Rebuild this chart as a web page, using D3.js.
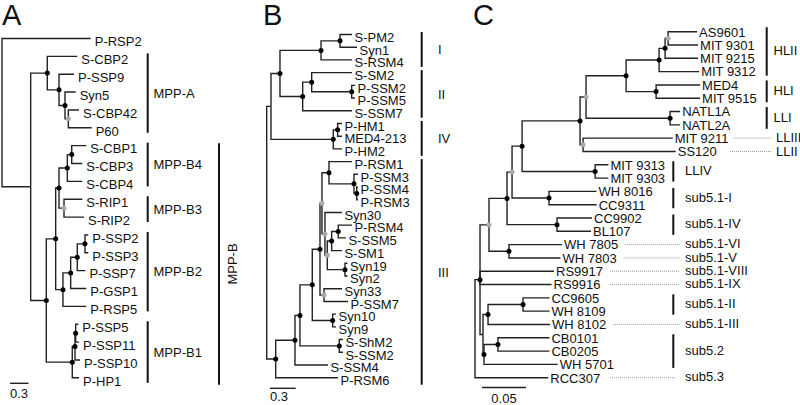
<!DOCTYPE html>
<html><head><meta charset="utf-8">
<script src="https://cdn.jsdelivr.net/npm/d3@7"></script>
<style>
body{margin:0;background:#fff}
svg{display:block}
text{font-family:"Liberation Sans",Arial,Helvetica,sans-serif;fill:#111}
</style>
</head><body>
<svg id="chart" width="800" height="405"></svg>
<script>
// ---------------- DATA ----------------
// Edge lists: [node, parent, branch length (subst./site), node mark: b = black dot, g = grey dot]
const treeA = [
  ["A0","",0,""],
  ["P-RSP2","A0",1.438],
  ["A1","A0",0.465,""],
  ["A2","A1",0.269,"b"],
  ["S-CBP2","A2",0.486],
  ["A3","A2",0.190,"b"],
  ["P-SSP9","A3",0.243],
  ["A4","A3",0.097,"b"],
  ["Syn5","A4",0.173],
  ["A5","A4",0.054,"g"],
  ["S-CBP42","A5",0.173],
  ["P60","A5",0.379],
  ["A6","A1",0.253,"b"],
  ["A7","A6",0.152,"b"],
  ["A8","A7",0.054,"b"],
  ["A9","A8",0.135,"b"],
  ["A10","A9",0.071,"b"],
  ["S-CBP1","A10",0.237],
  ["S-CBP3","A10",0.172],
  ["S-CBP4","A9",0.243],
  ["A11","A8",0.081,"g"],
  ["S-RIP1","A11",0.297],
  ["S-RIP2","A11",0.324],
  ["A12","A7",0.118,"b"],
  ["A13","A12",0.125,"b"],
  ["A14","A13",0.107,"b"],
  ["A15","A14",0.125,"b"],
  ["P-SSP2","A15",0.054],
  ["P-SSP3","A15",0.054],
  ["P-SSP7","A14",0.133],
  ["P-GSP1","A13",0.253],
  ["P-RSP5","A12",0.378],
  ["A16","A6",0.421,"b"],
  ["A17","A16",0.044,"b"],
  ["A18","A17",0.011,"b"],
  ["P-SSP5","A18",0.042],
  ["P-SSP11","A18",0.054],
  ["P-SSP10","A17",0.081],
  ["P-HP1","A16",0.109]
];
const treeB = [
  ["B0","",0,""],
  ["B1","B0",0.050,""],
  ["B2","B1",0.105,"b"],
  ["B3","B2",0.479,"b"],
  ["B4","B3",0.222,"b"],
  ["S-PM2","B4",0.140],
  ["Syn1","B4",0.198],
  ["S-RSM4","B3",0.362],
  ["B5","B2",0.265,"b"],
  ["B6","B5",0.105,"b"],
  ["S-SM2","B6",0.470],
  ["B7","B6",0.467,"b"],
  ["P-SSM2","B7",0.039],
  ["P-SSM5","B7",0.039],
  ["S-SSM7","B5",0.575],
  ["B8","B1",0.727,"b"],
  ["B9","B8",0.051,"b"],
  ["P-HM1","B9",0.050],
  ["MED4-213","B9",0.050],
  ["P-HM2","B8",0.102],
  ["B10","B0",0.105,"b"],
  ["B11","B10",0.225,"b"],
  ["B12","B11",0.058,"b"],
  ["B13","B12",0.144,"b"],
  ["B14","B13",0.090,"b"],
  ["B15","B14",0.023,"g"],
  ["B16","B15",0.082,"b"],
  ["P-RSM1","B16",0.268],
  ["B17","B16",0.292,"b"],
  ["P-SSM3","B17",0.047],
  ["B18","B17",0.032,"b"],
  ["P-SSM4","B18",0.015],
  ["P-RSM3","B18",0.015],
  ["B19","B15",0.035,"g"],
  ["Syn30","B19",0.198],
  ["B20","B19",0.027,"g"],
  ["B21","B20",0.051,"b"],
  ["B22","B21",0.077,"b"],
  ["P-RSM4","B22",0.160],
  ["S-SSM5","B22",0.090],
  ["S-SM1","B21",0.120],
  ["B23","B20",0.207,"b"],
  ["Syn19","B23",0.029],
  ["Syn2","B23",0.029],
  ["B24","B14",0.047,"g"],
  ["Syn33","B24",0.210],
  ["P-SSM7","B24",0.280],
  ["B25","B13",0.238,"b"],
  ["Syn10","B25",0.039],
  ["Syn9","B25",0.039],
  ["B26","B12",0.459,"b"],
  ["S-ShM2","B26",0.043],
  ["S-SSM2","B26",0.043],
  ["S-SSM4","B11",0.385],
  ["P-RSM6","B10",0.727]
];
const treeC = [
  ["C0","",0,""],
  ["C1","C0",0.0057,"b"],
  ["C2","C1",0.0102,"g"],
  ["C3","C2",0.0205,"b"],
  ["C4","C3",0.0057,"g"],
  ["C5","C4",0.0114,"b"],
  ["C6","C5",0.0659,"b"],
  ["C7","C6",0.0068,"g"],
  ["C8","C7",0.0455,"b"],
  ["C9","C8",0.0375,"b"],
  ["C10","C9",0.0068,"b"],
  ["C11","C10",0.0034,"g"],
  ["AS9601","C11",0.0330],
  ["MIT 9301","C11",0.0341],
  ["MIT 9215","C10",0.0375],
  ["MIT 9312","C9",0.0455],
  ["C12","C8",0.0341,"b"],
  ["MED4","C12",0.0500],
  ["MIT 9515","C12",0.0500],
  ["C13","C7",0.0955,"b"],
  ["NATL1A","C13",0.0114],
  ["NATL2A","C13",0.0114],
  ["C14","C6",0.0034,"g"],
  ["MIT 9211","C14",0.1019],
  ["SS120","C14",0.1053],
  ["C15","C5",0.0830,"b"],
  ["MIT 9313","C15",0.0151],
  ["MIT 9303","C15",0.0151],
  ["C16","C4",0.0420,"b"],
  ["WH 8016","C16",0.0540],
  ["CC9311","C16",0.0542],
  ["C17","C3",0.0568,"b"],
  ["CC9902","C17",0.0398],
  ["BL107","C17",0.0386],
  ["C18","C2",0.0227,"b"],
  ["WH 7805","C18",0.0602],
  ["WH 7803","C18",0.0585],
  ["RS9917","C1",0.0841],
  ["RS9916","C1",0.0813],
  ["C19","C1",0.0034,""],
  ["C20","C19",0.0057,"b"],
  ["C21","C20",0.0398,"b"],
  ["CC9605","C21",0.0301],
  ["WH 8109","C21",0.0301],
  ["WH 8102","C20",0.0705],
  ["C22","C19",0.0011,"b"],
  ["C23","C22",0.0159,"b"],
  ["CB0101","C23",0.0585],
  ["CB0205","C23",0.0585],
  ["WH 5701","C22",0.0838],
  ["RCC307","C0",0.0833]
];
// clade brackets: [label, first leaf, last leaf]
const groupsA = [["MPP-A","S-CBP2","P60"],["MPP-B4","S-CBP1","S-CBP4"],["MPP-B3","S-RIP1","S-RIP2"],["MPP-B2","P-SSP2","P-RSP5"],["MPP-B1","P-SSP5","P-HP1"]];
const superA = [["MPP-B","S-CBP1","P-HP1"]];
const groupsB = [["I","S-PM2","S-RSM4"],["II","S-SM2","S-SSM7"],["IV","P-HM1","P-HM2"],["III","P-RSM1","P-RSM6"]];
const groupsC1 = [["HLII","AS9601","MIT 9312"],["HLI","MED4","MIT 9515"],["LLI","NATL1A","NATL2A"]];
const groupsC2 = [["LLIV","MIT 9313","MIT 9303"],["sub5.1-I","WH 8016","CC9311"],["sub5.1-IV","CC9902","BL107"],["sub5.1-II","CC9605","WH 8109"],["sub5.2","CB0101","WH 5701"]];
const dottedC1 = [["LLIII","MIT 9211"],["LLII","SS120"]];
const dottedC2 = [["sub5.1-VI","WH 7805"],["sub5.1-V","WH 7803"],["sub5.1-VIII","RS9917"],["sub5.1-IX","RS9916"],["sub5.1-III","WH 8102"],["sub5.3","RCC307"]];
const panelLetters = ["A","B","C"];
const scaleLabels = ["0.3","0.3","0.05"];
const scaleValues = [0.3,0.3,0.05];

// ---------------- DRAW ----------------
const svg = d3.select("#chart");
const LINE = "#222";

function drawTree(edges, cfg) {
  const g = svg.append("g");
  const root = d3.stratify().id(d => d[0]).parentId(d => d[1])(edges);
  root.eachBefore(n => { n.dist = n.parent ? n.parent.dist + n.data[2] : 0; });
  const leaves = root.leaves();
  const x = d3.scaleLinear().domain([0, 1]).range([cfg.x0, cfg.x0 + cfg.ppu]);
  const y = d3.scaleLinear().domain([0, leaves.length - 1]).range([cfg.y0, cfg.y1]);
  leaves.forEach((l, i) => { l.yy = y(i); });
  root.eachAfter(n => {
    if (n.children) n.yy = (n.children[0].yy + n.children[n.children.length - 1].yy) / 2;
  });
  g.selectAll("path.br").data(root.descendants().filter(n => n.parent))
    .join("path").attr("class", "br")
    .attr("d", n => `M${x(n.parent.dist)},${n.parent.yy}V${n.yy}H${x(n.dist)}`)
    .attr("fill", "none").attr("stroke", LINE).attr("stroke-width", 1.4);
  g.selectAll("circle").data(root.descendants().filter(n => n.data[3] === "b" || n.data[3] === "g"))
    .join("circle")
    .attr("cx", n => x(n.dist)).attr("cy", n => n.yy).attr("r", 2.5)
    .attr("fill", n => n.data[3] === "b" ? "#000" : "#aaa");
  const pos = {};
  g.selectAll("text.leaf").data(leaves).join("text").attr("class", "leaf")
    .attr("x", n => x(n.dist) + cfg.gap).attr("y", n => n.yy + cfg.base)
    .attr("font-size", 13).text(n => n.id)
    .each(function(n) { pos[n.id] = {y: n.yy, x: x(n.dist) + cfg.gap, end: x(n.dist) + cfg.gap + this.getComputedTextLength()}; });
  return {x, pos};
}

function vline(x, y1, y2, w) {
  svg.append("line").attr("x1", x).attr("x2", x).attr("y1", y1).attr("y2", y2)
    .attr("stroke", "#111").attr("stroke-width", w || 2);
}
function label(txt, x, yc, anchor) {
  svg.append("text").attr("x", x).attr("y", yc + 4.6).attr("font-size", 13)
    .attr("text-anchor", anchor || "start").text(txt);
}

// Panel A
const TA = drawTree(treeA, {x0: 2, ppu: 61.7, y0: 38.5, y1: 377.8, gap: 4, base: 7.8});
groupsA.forEach(([lab, a, b]) => {
  const y1 = TA.pos[a].y - 3, y2 = TA.pos[b].y + 5;
  vline(147.7, y1, y2);
  label(lab, 153.5, (y1 + y2) / 2);
});
superA.forEach(([lab, a, b]) => {
  const y1 = TA.pos[a].y - 2.5, y2 = TA.pos[b].y + 7;
  vline(219, y1, y2);
  svg.append("text").attr("transform", `translate(236.5,${(y1 + y2) / 2}) rotate(-90)`)
    .attr("text-anchor", "middle").attr("font-size", 13).text(lab);
});

// Panel B
const TB = drawTree(treeB, {x0: 266.7, ppu: 85.67, y0: 34.5, y1: 377.7, gap: 2.5, base: 7.3});
groupsB.forEach(([lab, a, b]) => {
  const y1 = TB.pos[a].y - 2.5, y2 = TB.pos[b].y + 7;
  vline(421.7, y1, y2);
  label(lab, 438, (y1 + y2) / 2);
});

// Panel C
const TC = drawTree(treeC, {x0: 475, ppu: 880, y0: 31.7, y1: 377.7, gap: 2, base: 4.8});
groupsC1.forEach(([lab, a, b]) => {
  const y1 = TC.pos[a].y - 4.5, y2 = TC.pos[b].y + 4;
  vline(766.7, y1, y2);
  label(lab, 773.5, (y1 + y2) / 2 - 1);
});
groupsC2.forEach(([lab, a, b]) => {
  const y1 = TC.pos[a].y - 3.5, y2 = TC.pos[b].y + 3.5;
  vline(673.3, y1, y2);
  label(lab, 685, (y1 + y2) / 2 - 1);
});
function dotted(x1, x2, yy) {
  svg.append("line").attr("x1", x1).attr("x2", x2).attr("y1", yy).attr("y2", yy)
    .attr("stroke", "#999").attr("stroke-width", 1).attr("stroke-dasharray", "1,1");
}
dottedC1.forEach(([lab, leaf]) => {
  const p = TC.pos[leaf];
  dotted(Math.max(730, p.end + 5), 771.7, p.y);
  label(lab, 776, p.y - 0.5);
});
dottedC2.forEach(([lab, leaf]) => {
  const p = TC.pos[leaf];
  dotted(Math.max(610, p.end + 7), lab === "sub5.3" ? 675 : 680, p.y);
  label(lab, 685, p.y - 1);
});

// Panel letters
[[2, 25], [263, 25], [473, 25]].forEach(([lx, ly], i) => {
  svg.append("text").attr("x", lx).attr("y", ly).attr("font-size", 29).text(panelLetters[i]);
});

// Scale bars
const bars = [
  {T: TA, x: 10, y: 383.3, lx: 10, ly: 397.6, anchor: "start"},
  {T: TB, x: 270, y: 388.3, lx: 270, ly: 401.3, anchor: "start"},
  {T: TC, x: 482, y: 387.5, lx: null, ly: 403, anchor: "middle"}
];
bars.forEach((b, i) => {
  const len = b.T.x(scaleValues[i]) - b.T.x(0);
  svg.append("line").attr("x1", b.x).attr("x2", b.x + len).attr("y1", b.y).attr("y2", b.y)
    .attr("stroke", LINE).attr("stroke-width", 1.4);
  svg.append("text").attr("x", b.lx === null ? b.x + len / 2 : b.lx).attr("y", b.ly)
    .attr("text-anchor", b.anchor).attr("font-size", 13).text(scaleLabels[i]);
});
</script>
</body></html>
